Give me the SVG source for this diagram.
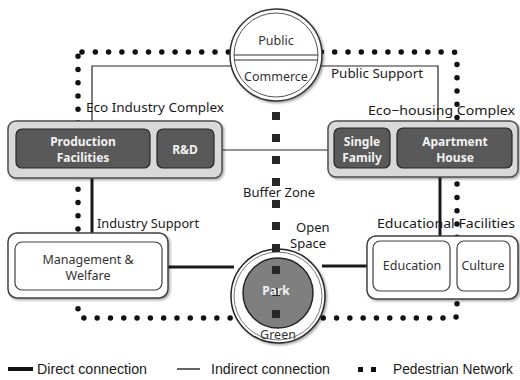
<svg xmlns="http://www.w3.org/2000/svg" width="520" height="380" viewBox="0 0 520 380">
<defs>
<filter id="sh" x="-20%" y="-20%" width="140%" height="140%">
<feDropShadow dx="1.5" dy="1.5" stdDeviation="1.2" flood-color="#000" flood-opacity="0.35"/>
</filter>
</defs>
<style>
.lbl{font-family:"Noto Sans","Open Sans","DejaVu Sans",sans-serif;font-size:13px;fill:#1a1a1a}
.wt{font-family:"Noto Sans","Open Sans","DejaVu Sans",sans-serif;font-size:12px;font-weight:bold;fill:#f2f2f2;text-anchor:middle}
.dk{font-family:"Noto Sans","Open Sans","DejaVu Sans",sans-serif;font-size:12.5px;fill:#333;text-anchor:middle}
.leg{font-family:"Liberation Sans Narrow","Liberation Sans",sans-serif;font-size:15px;fill:#1a1a1a}
.outerg{fill:#d9d9d9;stroke:#4d4d4d;stroke-width:1.5}
.innerd{fill:#595959;stroke:#262626;stroke-width:1.2}
.outerw{fill:#fff;stroke:#404040;stroke-width:1.5}
.innerw{fill:#fff;stroke:#404040;stroke-width:1.2}
.thin{fill:none;stroke:#262626;stroke-width:1.2}
.thick{fill:none;stroke:#1a1a1a;stroke-width:3}
</style>
<rect width="520" height="380" fill="#fff"/>
<g id="connectors">
<path id="pedestrian" d="M82 52 H453 Q457 52 457 56 V314 Q457 318 453 318 H82 Q78 318 78 314 V56 Q78 52 82 52 Z" fill="none" stroke="#111" stroke-width="5.5" stroke-linecap="round" stroke-dasharray="0 13.3"/>
<path class="thin" d="M92 121 V66 H232"/>
<path class="thin" d="M320 66 H438 V121"/>
<path class="thin" d="M222 150 H328"/>
<path class="thick" d="M92 178 V233"/>
<path class="thick" d="M440 177 V236"/>
<path class="thick" d="M168 267 H234"/>
<path class="thick" d="M322 266 H367"/>
</g>
<g id="public-commerce">
<circle cx="276" cy="55" r="46" fill="#fff" stroke="#333" stroke-width="1.5" filter="url(#sh)"/>
<circle cx="276" cy="55" r="42" fill="#fff" stroke="#555" stroke-width="1"/>
<line x1="234" y1="55" x2="318" y2="55" stroke="#333" stroke-width="1.2"/>
<line x1="234" y1="60" x2="318" y2="60" stroke="#333" stroke-width="1.2"/>
<text class="dk" x="276" y="45">Public</text>
<text class="dk" x="276" y="81">Commerce</text>
</g>
<g id="park">
<circle cx="278" cy="296" r="47" fill="#fff" stroke="#262626" stroke-width="1.5" filter="url(#sh)"/>
<circle cx="278" cy="296" r="44" fill="none" stroke="#555" stroke-width="0.8"/>
<circle cx="278" cy="293" r="35" fill="#7f7f7f" stroke="#262626" stroke-width="1.5"/>
<text class="dk" x="278" y="339">Green</text>
</g>
<g id="buffer-zone">
<line x1="276" y1="112" x2="276" y2="320" stroke="#262626" stroke-width="8" stroke-dasharray="8 14"/>
<text class="lbl" x="243" y="197">Buffer Zone</text>
<text class="lbl" x="296" y="232">Open</text>
<text class="lbl" x="290" y="248">Space</text>
<text class="wt" x="276" y="295">Park</text>
</g>
<g id="eco-industry">
<text class="lbl" x="86" y="112" textLength="138" lengthAdjust="spacingAndGlyphs">Eco Industry  Complex</text>
<rect class="outerg" x="8" y="121" width="214" height="57" rx="8" filter="url(#sh)"/>
<rect class="innerd" x="16" y="129" width="134" height="39" rx="6"/>
<rect class="innerd" x="157" y="129" width="57" height="39" rx="6"/>
<text class="wt" x="83" y="146">Production</text>
<text class="wt" x="83" y="162">Facilities</text>
<text class="wt" x="185" y="154">R&amp;D</text>
</g>
<g id="eco-housing">
<text class="lbl" x="331" y="78" textLength="92" lengthAdjust="spacingAndGlyphs">Public Support</text>
<text class="lbl" x="368" y="115" textLength="147" lengthAdjust="spacingAndGlyphs">Eco−housing Complex</text>
<rect class="outerg" x="328" y="121" width="190" height="56" rx="8" filter="url(#sh)"/>
<rect class="innerd" x="334" y="128" width="56" height="40" rx="6"/>
<rect class="innerd" x="397" y="128" width="115" height="40" rx="6"/>
<text class="wt" x="362" y="146">Single</text>
<text class="wt" x="362" y="162">Family</text>
<text class="wt" x="455" y="146">Apartment</text>
<text class="wt" x="455" y="162">House</text>
</g>
<g id="management">
<text class="lbl" x="97" y="228" textLength="102" lengthAdjust="spacingAndGlyphs">Industry Support</text>
<rect class="outerw" x="8" y="233" width="160" height="65" rx="9" filter="url(#sh)"/>
<rect class="innerw" x="15" y="242" width="147" height="48" rx="7"/>
<text class="dk" x="88" y="264">Management &amp;</text>
<text class="dk" x="88" y="280">Welfare</text>
</g>
<g id="educational">
<text class="lbl" x="377" y="228" textLength="138" lengthAdjust="spacingAndGlyphs">Educational  Facilities</text>
<rect class="outerw" x="367" y="236" width="151" height="63" rx="9" filter="url(#sh)"/>
<rect class="innerw" x="373" y="241" width="77" height="50" rx="7"/>
<rect class="innerw" x="457" y="241" width="53" height="50" rx="7"/>
<text class="dk" x="412" y="270">Education</text>
<text class="dk" x="483" y="270">Culture</text>
</g>
<g id="legend">
<rect x="8" y="367" width="25" height="4" fill="#111"/>
<text class="leg" x="37" y="374" textLength="110" lengthAdjust="spacingAndGlyphs">Direct connection</text>
<line x1="177" y1="369" x2="200" y2="369" stroke="#111" stroke-width="1.3"/>
<text class="leg" x="211" y="374" textLength="119" lengthAdjust="spacingAndGlyphs">Indirect connection</text>
<rect x="358" y="367" width="5" height="5" fill="#111"/>
<rect x="371" y="367" width="5" height="5" fill="#111"/>
<text class="leg" x="513" y="374" text-anchor="end" textLength="120" lengthAdjust="spacingAndGlyphs">Pedestrian Network</text>
</g>
</svg>
